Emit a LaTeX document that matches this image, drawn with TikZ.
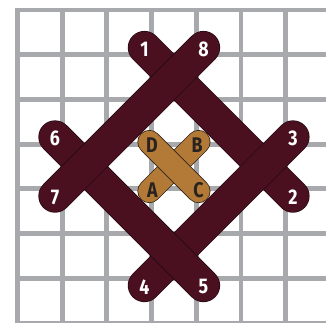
\documentclass[tikz,border=0pt]{standalone}
\usepackage{fontspec}
\newfontfamily\stitchfont[FakeStretch=0.84]{Fira Sans}
\definecolor{gridgray}{RGB}{167,169,172}
\definecolor{maroon}{RGB}{74,16,32}
\definecolor{maroonedge}{RGB}{38,10,18}
\definecolor{ochre}{RGB}{178,122,54}
\definecolor{ochreedge}{RGB}{50,36,24}
\definecolor{ink}{RGB}{40,34,32}
\begin{document}
\begin{tikzpicture}[x=1cm,y=-1cm,line cap=round,line join=round,
    font=\stitchfont\bfseries\fontsize{13.5}{13.5}\selectfont,
    gridline/.style={draw=gridgray,line width=0.11cm,line cap=rect},
    bigstitch/.style={draw=maroon,line width=0.71cm,
      preaction={draw=maroonedge,line width=0.71cm+1pt}},
    smallstitch/.style={draw=ochre,line width=0.5cm,
      preaction={draw=ochreedge,line width=0.5cm+1pt}},
    num/.style={text=white,inner sep=0pt},
    letter/.style={text=ink,inner sep=0pt}]
  \def\o{0.16}
  \useasboundingbox (-0.39,-0.224) rectangle (6.90,6.98);
  % canvas grid
  \begin{scope}
    \clip (-0.39,-0.224) rectangle (6.90,6.98);
    \draw[gridline] (0,0) grid (7.5,7.5);
  \end{scope}
  % holes of the big stitches
  \coordinate (p1) at (3-\o,1-\o);
  \coordinate (p2) at (6+\o,4+\o);
  \coordinate (p3) at (6+\o,3-\o);
  \coordinate (p4) at (3-\o,6+\o);
  \coordinate (p5) at (4+\o,6+\o);
  \coordinate (p6) at (1-\o,3-\o);
  \coordinate (p7) at (1-\o,4+\o);
  \coordinate (p8) at (4+\o,1-\o);
  \draw[bigstitch] (p1) -- (p2);
  \draw[bigstitch] (p3) -- (p4);
  \draw[bigstitch] (p5) -- (p6);
  \draw[bigstitch] (p7) -- (p8);
  % small cross in the middle
  \coordinate (qa) at (2.95,4.05);
  \coordinate (qb) at (4.05,2.95);
  \coordinate (qc) at (4.05,4.05);
  \coordinate (qd) at (2.95,2.95);
  \draw[smallstitch] (qa) -- (qb);
  \draw[smallstitch] (qc) -- (qd);
  % numbers
  \foreach \i in {1,...,8}
    \node[num] (n\i) at ([yshift=-0.03cm]p\i) {\i};
  \node[letter] (la) at (3.02,4.03) {A};
  \node[letter] (lb) at (4.02,3.02) {B};
  \node[letter] (lc) at (4.05,4.03) {C};
  \node[letter] (ld) at (3.01,3.02) {D};
\end{tikzpicture}
\end{document}
